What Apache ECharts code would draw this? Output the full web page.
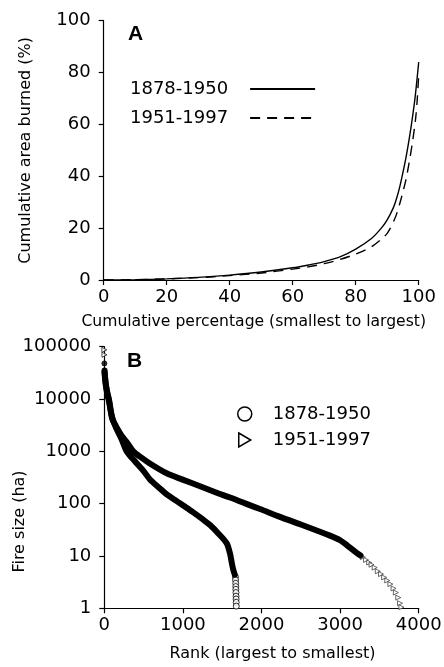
<!DOCTYPE html>
<html><head><meta charset="utf-8">
<script src="https://cdn.jsdelivr.net/npm/echarts@6/dist/echarts.min.js"></script>
<style>html,body{margin:0;padding:0;background:#fff}#c{width:444px;height:667px}</style>
</head><body><div id="c"></div>
<script>
const periods = ['1878-1950', '1951-1997'];
const pctTicks = ['0', '20', '40', '60', '80', '100'];
const rankTicks = ['0', '1000', '2000', '3000', '4000'];
const sizeTicks = ['1', '10', '100', '1000', '10000', '100000'];

// Panel A: cumulative percentage (x) vs cumulative area burned (y)
const cumPctEarly = [0, 10, 20, 30, 40, 50, 60, 65, 70, 75, 80, 85, 88, 90, 92, 93, 94, 95, 96, 97, 98, 99, 100];
const cumAreaEarly = [0, 0.1, 0.45, 1.0, 1.9, 3.1, 4.7, 5.8, 7.1, 8.9, 11.9, 16, 19.8, 23.2, 28, 31.5, 36, 41.5, 47.5, 54.5, 62.5, 72, 84];
const cumPctLate = [0, 10, 20, 30, 40, 50, 60, 65, 70, 75, 80, 85, 88, 90, 91, 92, 93, 94, 95, 96, 97, 98, 99, 99.5, 100];
const cumAreaLate = [0, 0.1, 0.4, 0.9, 1.7, 2.7, 4.2, 5.1, 6.3, 7.9, 10, 12.8, 15.6, 18, 20, 22.5, 25.5, 29.5, 34, 39, 45.5, 53, 62, 69, 79];

// Panel B: rank (x) vs fire size in ha (y)
const rankEarlyTop = [1];
const sizeEarlyTop = [48000];
const rankEarly = [3, 8, 20, 40, 60, 100, 150, 220, 285, 400, 500, 581, 700, 794, 900, 1005, 1132, 1250, 1345, 1450, 1557, 1600, 1621, 1640, 1660];
const sizeEarly = [33000, 26000, 18000, 12000, 9000, 4500, 2800, 1700, 1000, 620, 420, 290, 200, 150, 118, 92, 68, 50.5, 39, 27, 17.5, 11, 7.5, 5.5, 4.4];
const rankEarlyTail = [1668, 1670, 1672, 1673, 1674, 1675, 1676, 1677, 1678, 1679];
const sizeEarlyTail = [4, 3.5, 3, 2.6, 2.3, 2, 1.7, 1.5, 1.3, 1.1];
const rankLateTop = [1, 2];
const sizeLateTop = [87000, 70000];
const rankLate = [3, 8, 20, 40, 60, 100, 150, 220, 300, 369, 450, 600, 794, 1005, 1218, 1430, 1600, 1800, 1981, 2235, 2500, 2871, 3000, 3100, 3211, 3260];
const sizeLate = [35000, 28000, 19000, 13000, 9800, 4200, 3000, 2000, 1400, 1000, 800, 560, 380, 285, 215, 162, 131, 100, 79, 56, 40, 24.5, 20, 15.5, 11.5, 10.2];
const rankLateTail = [3290, 3330, 3370, 3400, 3440, 3480, 3520, 3560, 3600, 3640, 3680, 3710, 3740, 3762, 3780];
const sizeLateTail = [9.5, 8.4, 7.5, 6.8, 6, 5.1, 4.5, 3.9, 3.4, 2.9, 2.4, 2, 1.6, 1.25, 1.05];

const zip = (a, b) => a.map((v, i) => [v, b[i]]);
const tickFont = 'DejaVu Sans';
const nameFont = 'DejaVu Sans';
const axisCommon = {
  nameMoveOverlap: false,
  axisLine: { show: true, lineStyle: { color: '#000', width: 1.2 } },
  axisTick: { show: true, length: 5, inside: false, lineStyle: { color: '#000', width: 1.2 } },
  splitLine: { show: false },
  minorTick: { show: false },
  axisLabel: { color: '#000', fontFamily: tickFont, fontSize: 18 },
  nameTextStyle: { color: '#000', fontFamily: nameFont, fontSize: 16 }
};
function ax(extra) {
  const o = JSON.parse(JSON.stringify(axisCommon));
  for (const k in extra) {
    if (typeof extra[k] === 'object' && !Array.isArray(extra[k]) && o[k]) Object.assign(o[k], extra[k]);
    else o[k] = extra[k];
  }
  return o;
}
const hidden = { color: 'rgba(0,0,0,0)', borderColor: 'rgba(0,0,0,0)', borderWidth: 0, opacity: 0 };

const chart = echarts.init(document.getElementById('c'), null, { renderer: 'canvas' });
chart.setOption({
  backgroundColor: '#fff',
  animation: false,
  title: [
    { text: 'A', left: 128, top: 24, padding: 0, textStyle: { fontFamily: 'Liberation Sans', fontSize: 21, fontWeight: 'bold', color: '#000' } },
    { text: 'B', left: 127, top: 351, padding: 0, textStyle: { fontFamily: 'Liberation Sans', fontSize: 21, fontWeight: 'bold', color: '#000' } }
  ],
  legend: [
    {
      orient: 'vertical', left: 130, top: 80, padding: 0, align: 'right',
      itemWidth: 65, itemHeight: 14, itemGap: 11,
      textStyle: { fontFamily: tickFont, fontSize: 18, color: '#000', padding: [0, 17, 0, 0] },
      data: [
        { name: periods[0], itemStyle: hidden },
        { name: periods[1], itemStyle: hidden }
      ],
      selectedMode: false
    },
    {
      orient: 'vertical', left: 237, top: 405, padding: 0, align: 'left',
      itemWidth: 14, itemHeight: 14, itemGap: 8,
      textStyle: { fontFamily: tickFont, fontSize: 18, color: '#000', padding: [0, 0, 0, 16] },
      data: [
        { name: periods[0], icon: 'circle', itemStyle: { color: '#fff', borderColor: '#000', borderWidth: 1.5, opacity: 1 } },
        { name: periods[1], icon: 'path://M0,0 L12,7 L0,14 Z', itemStyle: { color: '#fff', borderColor: '#000', borderWidth: 1.5, opacity: 1 } }
      ],
      selectedMode: false
    }
  ],
  grid: [
    { left: 103.7, right: 25.3, top: 20.7, height: 259.3, containLabel: false, outerBoundsMode: 'none' },
    { left: 104.3, right: 25.3, top: 346.7, bottom: 58.7, containLabel: false, outerBoundsMode: 'none' }
  ],
  xAxis: [
    ax({ type: 'value', gridIndex: 0, min: 0, max: 100, interval: 20,
      name: 'Cumulative percentage (smallest to largest)', nameLocation: 'middle', nameGap: 34,
      nameTextStyle: { fontSize: 15.6, padding: [0, 15, 0, 0] },
      axisLabel: { margin: 8, formatter: v => pctTicks[Math.round(v / 20)] } }),
    ax({ type: 'value', gridIndex: 1, min: 0, max: 4000, interval: 1000,
      name: 'Rank (largest to smallest)', nameLocation: 'middle', nameGap: 38,
      nameTextStyle: { padding: [0, 0, 0, 22] },
      axisLabel: { margin: 8, formatter: v => rankTicks[Math.round(v / 1000)] } })
  ],
  yAxis: [
    ax({ type: 'value', gridIndex: 0, min: 0, max: 100, interval: 20,
      name: 'Cumulative area burned (%)', nameLocation: 'middle', nameGap: 70,
      axisLabel: { margin: 13, formatter: v => pctTicks[Math.round(v / 20)] } }),
    ax({ type: 'log', gridIndex: 1, logBase: 10, min: 1, max: 100000,
      name: 'Fire size (ha)', nameLocation: 'middle', nameGap: 76,
      nameTextStyle: { padding: [0, 88, 0, 0] },
      axisLabel: { margin: 13, formatter: v => sizeTicks[Math.round(Math.log10(v))] } })
  ],
  series: [
    { name: periods[0], type: 'line', xAxisIndex: 0, yAxisIndex: 0, data: zip(cumPctEarly, cumAreaEarly),
      smooth: 0.3, symbol: 'none', lineStyle: { color: '#000', width: 1.4, type: 'solid' }, itemStyle: { color: '#000' } },
    { name: periods[1], type: 'line', xAxisIndex: 0, yAxisIndex: 0, data: zip(cumPctLate, cumAreaLate),
      smooth: 0.3, symbol: 'none', lineStyle: { color: '#000', width: 1.4, type: [10, 7] }, itemStyle: { color: '#000' } },
    { name: periods[0], type: 'line', xAxisIndex: 1, yAxisIndex: 1, data: zip(rankEarly, sizeEarly),
      smooth: 0.3, symbol: 'none', lineStyle: { color: '#000', width: 6, cap: 'round', join: 'round' } },
    { name: periods[1], type: 'line', xAxisIndex: 1, yAxisIndex: 1, data: zip(rankLate, sizeLate),
      smooth: 0.3, symbol: 'none', lineStyle: { color: '#000', width: 6, cap: 'round', join: 'round' } },
    { name: periods[0], type: 'scatter', xAxisIndex: 1, yAxisIndex: 1, data: zip(rankEarlyTop, sizeEarlyTop),
      symbol: 'circle', symbolSize: 5, itemStyle: { color: '#000', borderColor: '#000', borderWidth: 1 } },
    { name: periods[1], type: 'scatter', xAxisIndex: 1, yAxisIndex: 1, data: zip(rankLateTop, sizeLateTop),
      symbol: 'triangle', symbolSize: 5, symbolRotate: -90, itemStyle: { color: '#fff', borderColor: '#222', borderWidth: 1 } },
    { name: periods[0], type: 'scatter', xAxisIndex: 1, yAxisIndex: 1, data: zip(rankEarlyTail, sizeEarlyTail),
      symbol: 'circle', symbolSize: 6, itemStyle: { color: '#fff', borderColor: '#000', borderWidth: 1 } },
    { name: periods[1], type: 'scatter', xAxisIndex: 1, yAxisIndex: 1, data: zip(rankLateTail, sizeLateTail),
      symbol: 'triangle', symbolSize: 5, symbolRotate: -90, itemStyle: { color: '#fff', borderColor: '#444', borderWidth: 1 } }
  ]
});
</script>
</body></html>
